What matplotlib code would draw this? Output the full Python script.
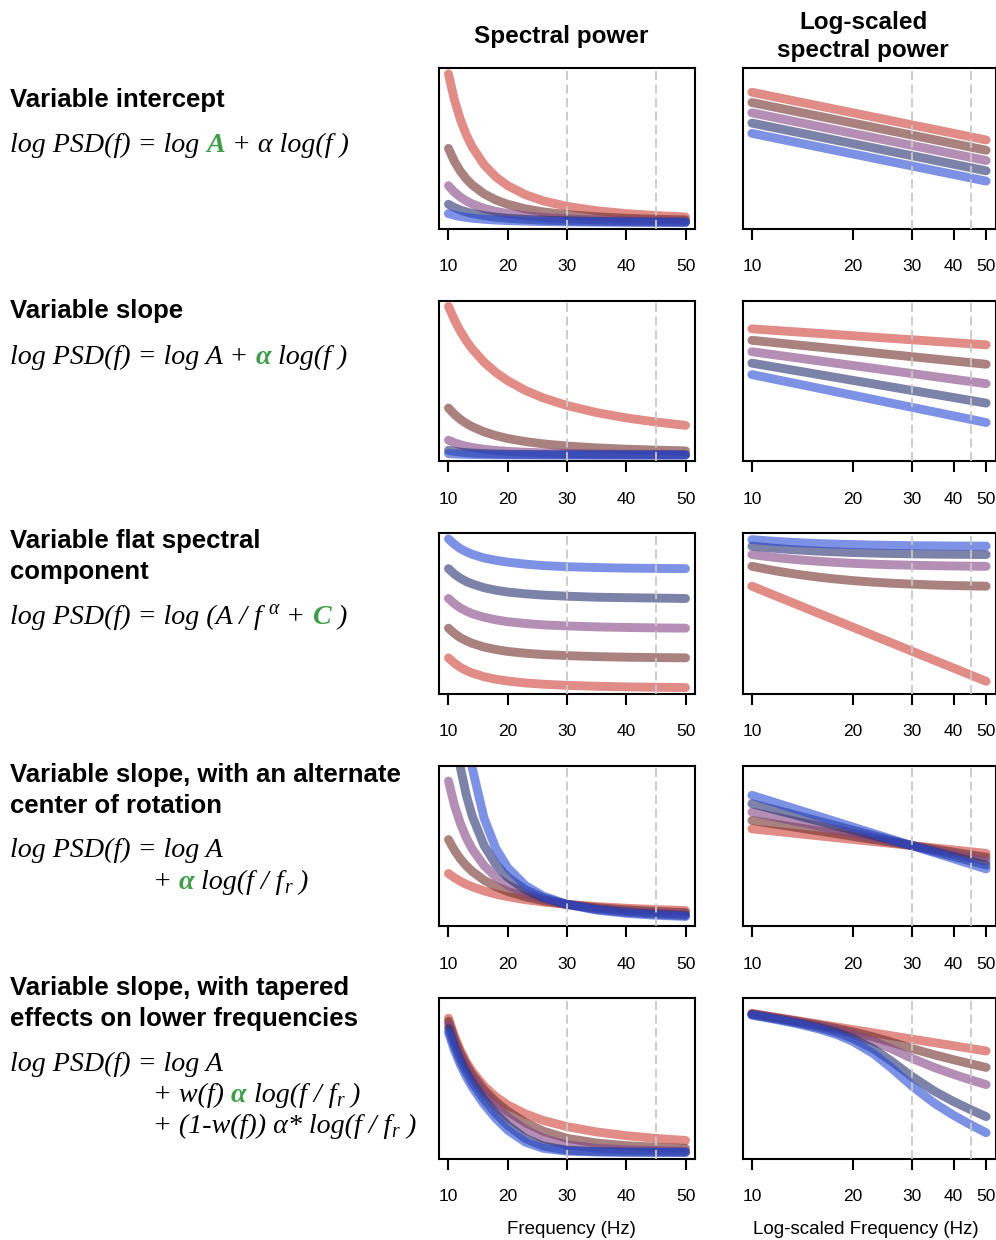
import numpy as np
import matplotlib.pyplot as plt
from matplotlib.ticker import NullLocator, FixedFormatter, FixedLocator

W, H = 996, 1240

freqs = [10, 11, 12, 13, 14, 16, 18, 20, 23, 26, 30, 35, 40, 45, 50]

# log10 spectral power, lines ordered red -> brown -> purple -> slate -> blue
intercept_logpow = [
    [0.000, -0.083, -0.158, -0.228, -0.292, -0.408, -0.511, -0.602, -0.723, -0.830, -0.954, -1.088, -1.204, -1.306, -1.398],
    [-0.301, -0.384, -0.459, -0.529, -0.593, -0.709, -0.812, -0.903, -1.024, -1.131, -1.255, -1.389, -1.505, -1.607, -1.699],
    [-0.602, -0.685, -0.760, -0.830, -0.894, -1.010, -1.113, -1.204, -1.325, -1.432, -1.556, -1.690, -1.806, -1.908, -2.000],
    [-0.903, -0.986, -1.061, -1.131, -1.195, -1.311, -1.414, -1.505, -1.626, -1.733, -1.857, -1.991, -2.107, -2.209, -2.301],
    [-1.204, -1.287, -1.362, -1.432, -1.496, -1.612, -1.715, -1.806, -1.927, -2.034, -2.158, -2.292, -2.408, -2.510, -2.602],
]

slope_logpow = [
    [0.000, -0.041, -0.079, -0.114, -0.146, -0.204, -0.255, -0.301, -0.362, -0.415, -0.477, -0.544, -0.602, -0.653, -0.699],
    [-0.500, -0.562, -0.619, -0.671, -0.719, -0.806, -0.883, -0.952, -1.043, -1.123, -1.216, -1.316, -1.403, -1.480, -1.549],
    [-1.000, -1.083, -1.158, -1.228, -1.292, -1.408, -1.511, -1.602, -1.723, -1.830, -1.954, -2.088, -2.204, -2.306, -2.398],
    [-1.500, -1.604, -1.698, -1.785, -1.865, -2.010, -2.138, -2.253, -2.404, -2.538, -2.693, -2.860, -3.005, -3.133, -3.248],
    [-2.000, -2.124, -2.238, -2.342, -2.438, -2.612, -2.766, -2.903, -3.085, -3.245, -3.431, -3.632, -3.806, -3.960, -4.097],
]

flat_logpow = [
    [0.018, -0.065, -0.141, -0.210, -0.275, -0.391, -0.493, -0.584, -0.706, -0.812, -0.937, -1.071, -1.186, -1.289, -1.380],
    [0.310, 0.270, 0.236, 0.209, 0.185, 0.148, 0.121, 0.100, 0.078, 0.062, 0.048, 0.035, 0.027, 0.022, 0.018],
    [0.483, 0.457, 0.435, 0.418, 0.403, 0.382, 0.366, 0.354, 0.342, 0.333, 0.326, 0.319, 0.315, 0.312, 0.310],
    [0.607, 0.587, 0.571, 0.558, 0.548, 0.532, 0.521, 0.513, 0.505, 0.499, 0.494, 0.489, 0.487, 0.485, 0.483],
    [0.703, 0.687, 0.674, 0.664, 0.656, 0.644, 0.636, 0.630, 0.623, 0.618, 0.614, 0.611, 0.609, 0.608, 0.607],
]

rotation_logpow = [
    [0.477, 0.436, 0.398, 0.363, 0.331, 0.273, 0.222, 0.176, 0.115, 0.062, 0.000, -0.067, -0.125, -0.176, -0.222],
    [0.716, 0.654, 0.597, 0.545, 0.497, 0.410, 0.333, 0.264, 0.173, 0.093, 0.000, -0.101, -0.188, -0.264, -0.333],
    [0.954, 0.871, 0.796, 0.726, 0.662, 0.546, 0.444, 0.352, 0.231, 0.124, 0.000, -0.134, -0.250, -0.352, -0.444],
    [1.193, 1.089, 0.995, 0.908, 0.828, 0.683, 0.555, 0.440, 0.289, 0.155, 0.000, -0.168, -0.313, -0.440, -0.555],
    [1.431, 1.307, 1.194, 1.090, 0.993, 0.819, 0.665, 0.528, 0.346, 0.186, 0.000, -0.201, -0.375, -0.528, -0.666],
]

tapered_logpow = [
    [0.000, -0.062, -0.119, -0.171, -0.219, -0.306, -0.383, -0.452, -0.543, -0.623, -0.716, -0.816, -0.903, -0.980, -1.049],
    [-0.010, -0.073, -0.131, -0.185, -0.236, -0.332, -0.423, -0.514, -0.655, -0.799, -0.978, -1.155, -1.294, -1.409, -1.508],
    [-0.020, -0.084, -0.144, -0.200, -0.254, -0.358, -0.464, -0.579, -0.772, -0.982, -1.250, -1.509, -1.701, -1.856, -1.988],
    [-0.035, -0.101, -0.164, -0.224, -0.283, -0.404, -0.538, -0.696, -0.987, -1.322, -1.757, -2.167, -2.461, -2.689, -2.881],
    [-0.050, -0.118, -0.184, -0.248, -0.312, -0.445, -0.597, -0.780, -1.118, -1.512, -2.023, -2.503, -2.846, -3.110, -3.331],
]

rows = [intercept_logpow, slope_logpow, flat_logpow, rotation_logpow, tapered_logpow]

# y ranges of the panels (None -> data range)
lin_ylims = [None, None, None, (-0.40, 10.0), (-0.045, 1.15)]
log_ylims = [(-3.99, 0.71), (-5.78, 1.24), (-1.56, 0.80), (-2.29, 2.28), (-4.05, 0.43)]

tick_vals = [10, 20, 30, 40, 50]
dash_freqs = [30, 45]

line_colors = ['#CD3F37', '#712F2B', '#824382', '#262F71', '#2648D5']
GREEN = '#3E9E4A'
SANS = 'Liberation Sans'
SERIF = 'Liberation Serif'

fig = plt.figure(figsize=(W / 100, H / 100), dpi=100)
renderer = fig.canvas.get_renderer()

row_tops = [68, 300.5, 533, 765.5, 998]
row_h = 160.5
lx, lw_ = 439, 256
rx, rw_ = 742.5, 253


def style_axis(ax, logx):
    for sp in ax.spines.values():
        sp.set_linewidth(1.5)
    ax.set_yticks([])
    if logx:
        ax.set_xscale('log')
        ax.set_xlim(10 ** (1 - 0.028), 10 ** (np.log10(50) + 0.028))
    else:
        ax.set_xlim(8.4, 51.6)
    ax.xaxis.set_major_locator(FixedLocator(tick_vals))
    ax.xaxis.set_major_formatter(FixedFormatter([str(v) for v in tick_vals]))
    ax.xaxis.set_minor_locator(NullLocator())
    ax.tick_params(axis='x', length=8, width=1.5, pad=14, labelsize=12.5)
    for lab in ax.get_xticklabels():
        lab.set_family(SANS)
    for f in dash_freqs:
        ax.axvline(f, color='#C8C8C8', lw=1.3, dashes=(5, 2.5), zorder=5)


for i, data in enumerate(rows):
    top = row_tops[i]
    b = 1 - (top + row_h) / H
    ax1 = fig.add_axes([lx / W, b, lw_ / W, row_h / H])
    ax2 = fig.add_axes([rx / W, b, rw_ / W, row_h / H])
    for vals, c in zip(data, line_colors):
        v = np.array(vals)
        ax1.plot(freqs, 10 ** v, color=c, alpha=0.6, lw=6.4, solid_capstyle='round')
        ax2.plot(freqs, v, color=c, alpha=0.6, lw=6.4, solid_capstyle='round')
    if lin_ylims[i] is None:
        ax1.margins(y=0.04)
    else:
        ax1.set_ylim(*lin_ylims[i])
    ax2.set_ylim(*log_ylims[i])
    style_axis(ax1, False)
    style_axis(ax2, True)

# column headers and axis labels
fig.text(561 / W, 1 - 36 / H, 'Spectral power', ha='center', va='center',
         family=SANS, weight='bold', size=17.5)
fig.text(863 / W, 1 - 22 / H, 'Log-scaled', ha='center', va='center',
         family=SANS, weight='bold', size=17.5)
fig.text(863 / W, 1 - 50 / H, 'spectral power', ha='center', va='center',
         family=SANS, weight='bold', size=17.5)
fig.text(571 / W, 1 - 1230 / H, 'Frequency (Hz)', ha='center', va='center',
         family=SANS, size=13.5)
fig.text(866 / W, 1 - 1230 / H, 'Log-scaled Frequency (Hz)', ha='center', va='center',
         family=SANS, size=13.5)

# row titles
titles = [
    (['Variable intercept'], 107),
    (['Variable slope'], 318),
    (['Variable flat spectral', 'component'], 548),
    (['Variable slope, with an alternate', 'center of rotation'], 782),
    (['Variable slope, with tapered', 'effects on lower frequencies'], 995),
]
for lines, y0 in titles:
    for k, s in enumerate(lines):
        fig.text(10 / W, 1 - (y0 + 31 * k) / H, s, ha='left', va='baseline',
                 family=SANS, weight='bold', size=18.5)

EQ_SIZE = 20.2


def text_kw(style):
    kw = dict(family=SERIF, style='italic', size=EQ_SIZE, color='black')
    dy = 0
    if style == 'g':
        kw.update(color=GREEN, weight='bold')
    elif style == 'sup':
        kw['size'] = EQ_SIZE * 0.7
        dy = -10
    elif style == 'sub':
        kw['size'] = EQ_SIZE * 0.7
        dy = 4
    return kw, dy


def seg_width(s, kw):
    t1 = fig.text(0, 0, '|' + s + '|', **kw)
    t2 = fig.text(0, 0, '||', **kw)
    w = t1.get_window_extent(renderer).width - t2.get_window_extent(renderer).width
    t1.remove()
    t2.remove()
    return w


def formula(x, y, parts):
    for s, style in parts:
        kw, dy = text_kw(style)
        lead = len(s) - len(s.lstrip(' '))
        off = seg_width(' ' * lead, kw) if lead else 0
        fig.text((x + off) / W, 1 - (y + dy) / H, s.strip(' '), ha='left', va='baseline', **kw)
        x += seg_width(s, kw)


formula(10, 152, [('log PSD(f) = log ', 'n'), ('A', 'g'), (' + α log(f )', 'n')])
formula(10, 364, [('log PSD(f) = log A + ', 'n'), ('α', 'g'), (' log(f )', 'n')])
formula(10, 624, [('log PSD(f) = log (A / f ', 'n'), ('α', 'sup'), (' + ', 'n'),
                  ('C', 'g'), (' )', 'n')])
formula(10, 857, [('log PSD(f) = log A', 'n')])
formula(153, 889, [('+ ', 'n'), ('α', 'g'), (' log(f / f', 'n'), ('r', 'sub'), (' )', 'n')])
formula(10, 1071, [('log PSD(f) = log A', 'n')])
formula(153, 1102, [('+ w(f) ', 'n'), ('α', 'g'), (' log(f / f', 'n'), ('r', 'sub'), (' )', 'n')])
formula(153, 1133, [('+ (1-w(f)) α* log(f / f', 'n'), ('r', 'sub'), (' )', 'n')])

fig.savefig('out.png', dpi=100)
